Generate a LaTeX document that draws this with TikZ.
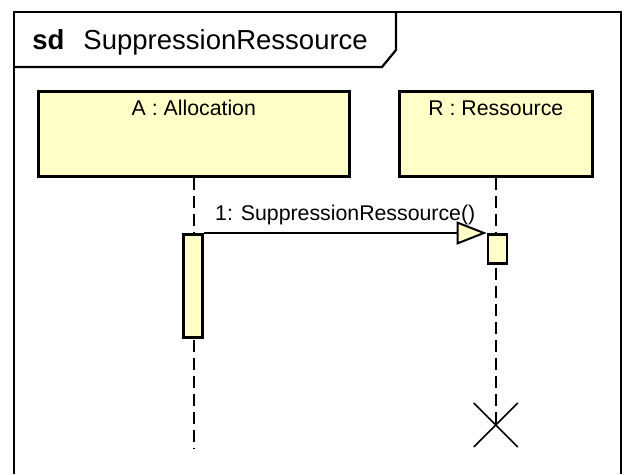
\documentclass[tikz,border=0pt]{standalone}
\usepackage{fontspec}
\setmainfont{Liberation Sans}
\usetikzlibrary{arrows.meta}
\definecolor{lifeyellow}{HTML}{FFFFC8}

\begin{document}
\begin{tikzpicture}[x=1pt,y=-1pt,thick,
  headbox/.style={draw,line width=2.6pt,fill=lifeyellow,inner sep=0pt,anchor=north west,minimum height=85pt},
  actbox/.style={draw,line width=2.6pt,fill=lifeyellow,inner sep=0pt,anchor=north,minimum width=19pt},
  lifeline/.style={line width=2pt,dash pattern=on 12pt off 6pt},
  lbl/.style={font=\fontsize{21.3}{25}\selectfont},
  msg/.style={line width=2pt,-{Triangle[length=30pt,width=23pt,fill=lifeyellow]}}]
\useasboundingbox (0,0) rectangle (631,474);
% frame and tab
\draw[line width=2.2pt] (14,474)--(14,12)--(621,12)--(621,474);
\draw[line width=2.2pt] (14,67)--(382,67)--(396,50)--(396,12);
\node[anchor=west,inner sep=0pt,font=\fontsize{27.5}{32}\selectfont] (title) at (32,42) {\textbf{sd}\hspace{19pt}SuppressionRessource};
% lifelines
\node[headbox,minimum width=311pt,label={[lbl,anchor=center,yshift=-18pt]north:A : Allocation}] (A) at (37,90) {};
\node[headbox,minimum width=193pt,label={[lbl,anchor=center,yshift=-18pt]north:R : Ressource}] (R) at (398,90) {};
\coordinate (Aend) at (A.south |- 0,448);\coordinate (Rend) at (R.south |- 0,425);
\draw[lifeline] (A.south)--(Aend);\draw[lifeline] (R.south)--(Rend);
\node[actbox,minimum height=103pt] (actA) at (193,233) {};
\node[actbox,minimum height=29pt] (actR) at (497.5,233) {};
% message
\draw[msg] (actA.north east)--(actR.north west) node[lbl,midway,above=4pt] (m1) {1: SuppressionRessource()};
% destruction
\draw[line width=1.6pt] ([shift={(-22,-22)}]Rend)--([shift={(22,22)}]Rend) ([shift={(-22,22)}]Rend)--([shift={(22,-22)}]Rend);
\end{tikzpicture}
\end{document}
